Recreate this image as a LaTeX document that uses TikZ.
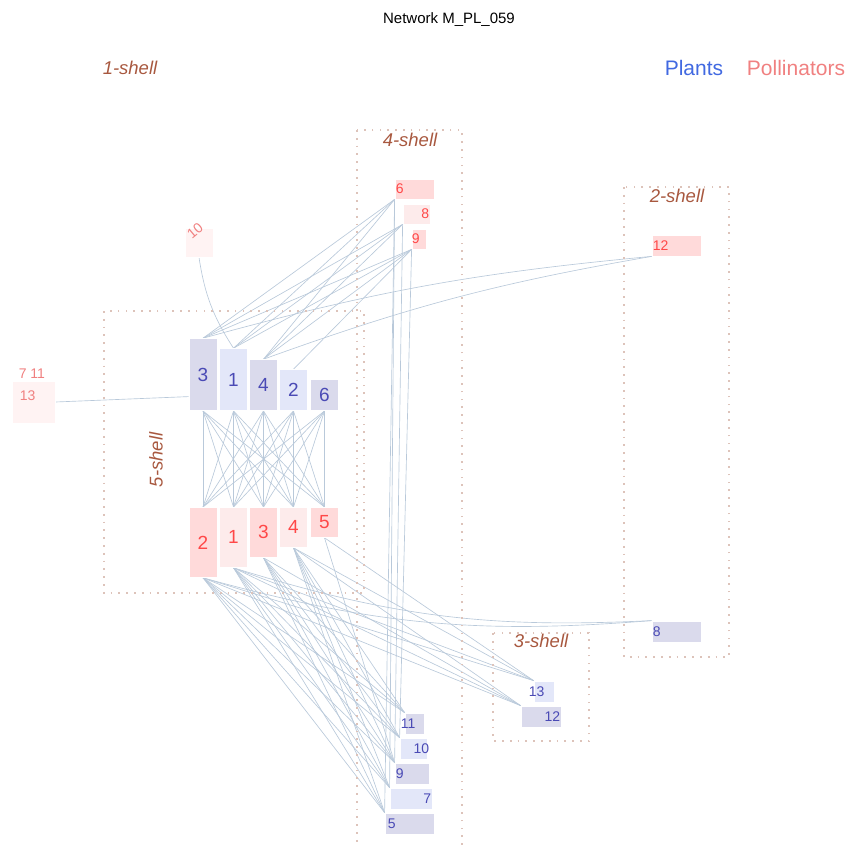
\documentclass[tikz,border=0pt]{standalone}
\usepackage{fontspec}
\setmainfont{Liberation Sans}
\usetikzlibrary{backgrounds}
\definecolor{plantfg}{HTML}{4A4AB5}
\definecolor{plantdark}{HTML}{DADAEC}
\definecolor{plantlight}{HTML}{E3E7F9}
\definecolor{pollfg}{HTML}{FF4848}
\definecolor{pollfaint}{HTML}{F08080}
\definecolor{pollmid}{HTML}{FFDADA}
\definecolor{polllight}{HTML}{FDEBEB}
\definecolor{pollpale}{HTML}{FFF3F3}
\definecolor{edgecol}{HTML}{B9C9DA}
\definecolor{shellbox}{HTML}{DDC3BA}
\definecolor{shelltext}{HTML}{A8583F}
\definecolor{legendplant}{HTML}{4169E1}
\definecolor{legendpoll}{HTML}{F08080}

\tikzset{
  box/.style={rectangle, draw=white, line width=0.8pt, inner sep=0pt},
  plantbox/.style={box, text=plantfg},
  pollbox/.style={box, text=pollfg},
  bignum/.style={font=\fontsize{19}{19}\selectfont},
  smallnum/.style={font=\fontsize{14}{14}\selectfont, inner sep=1pt},
  edge/.style={edgecol, line width=0.65pt},
  shell/.style={shellbox, line width=1.7pt, dash pattern=on 1.7pt off 6.1pt},
  shelllabel/.style={shelltext, font=\fontsize{18.5}{18.5}\selectfont\itshape},
}

\begin{document}
\begin{tikzpicture}[x=1pt, y=-1pt]
    \useasboundingbox (0,0) rectangle (849,846);
    % Title and legend
    \node[font=\fontsize{15}{15}\selectfont] (title) at (449,20) {Network M\_PL\_059};
    \node[legendplant, font=\fontsize{21}{21}\selectfont] (lplants) at (694,68) {Plants};
    \node[legendpoll, font=\fontsize{21}{21}\selectfont] (lpoll) at (796,68) {Pollinators};

    % Shell frames
    \draw[shell] (104,311) rectangle (364,593);
    \draw[shell] (357,130) rectangle (462,860);
    \draw[shell] (493,633) rectangle (589,741);
    \draw[shell] (624,187) rectangle (729,657);
    \node[shelllabel] (s1) at (130,68) {1-shell};
    \node[shelllabel] (s4) at (410,140) {4-shell};
    \node[shelllabel] (s2) at (677,196) {2-shell};
    \node[shelllabel] (s3) at (541,641) {3-shell};
    \node[shelllabel, rotate=90] (s5) at (156,460) {5-shell};

    % Plants, 5-shell
    \node[plantbox, bignum, fill=plantdark, minimum width=28, minimum height=72, anchor=south] (p3) at (203,411) {3};
    \node[plantbox, bignum, fill=plantlight, minimum width=28, minimum height=62, anchor=south] (p1) at (233.5,411) {1};
    \node[plantbox, bignum, fill=plantdark, minimum width=28, minimum height=51, anchor=south] (p4) at (263.5,411) {4};
    \node[plantbox, bignum, fill=plantlight, minimum width=28, minimum height=41, anchor=south] (p2) at (293.5,411) {2};
    \node[plantbox, bignum, fill=plantdark, minimum width=28, minimum height=31, anchor=south] (p6) at (324.5,411) {6};

    % Pollinators, 5-shell
    \node[pollbox, bignum, fill=pollmid, minimum width=28, minimum height=70, anchor=north] (a2) at (203,507) {2};
    \node[pollbox, bignum, fill=polllight, minimum width=28, minimum height=60, anchor=north] (a1) at (233.5,507) {1};
    \node[pollbox, bignum, fill=pollmid, minimum width=28, minimum height=50, anchor=north] (a3) at (263.5,507) {3};
    \node[pollbox, bignum, fill=polllight, minimum width=28, minimum height=40, anchor=north] (a4) at (293.5,507) {4};
    \node[pollbox, bignum, fill=pollmid, minimum width=28, minimum height=30, anchor=north] (a5) at (324.5,507) {5};

    % Pollinators, other shells
    \node[pollbox, fill=pollmid, minimum width=39, minimum height=20, label={[smallnum, pollfg, anchor=west]west:6}] (a6) at (414.5,189) {};
    \node[pollbox, fill=polllight, minimum width=27, minimum height=20, label={[smallnum, pollfg, anchor=east]east:8}] (a8) at (416.5,214) {};
    \node[pollbox, fill=pollmid, minimum width=14, minimum height=20, label={[smallnum, pollfg, anchor=west, inner sep=0pt]west:9}] (a9) at (419,239) {};
    \node[pollbox, fill=pollmid, minimum width=49, minimum height=21, label={[smallnum, pollfg, anchor=west]west:12}] (a12) at (676.5,245.5) {};
    \node[pollbox, fill=pollpale, minimum width=28, minimum height=29] (a10) at (199,242.5) {};
    \node[smallnum, pollfaint, rotate=40] (a10lab) at (195,231) {10};
    \node[pollbox, fill=pollpale, minimum width=43, minimum height=42,
      label={[smallnum, pollfaint, anchor=north west, inner sep=0pt, xshift=8pt, yshift=-10pt]north west:13},
      label={[smallnum, pollfaint, anchor=south west, inner sep=0pt, xshift=7pt, yshift=2pt]north west:7 11}] (a13) at (33.5,402) {};

    % Plants, other shells
    \node[plantbox, fill=plantdark, minimum width=19, minimum height=21, label={[smallnum, plantfg, anchor=west, xshift=-5pt]west:11}] (p11) at (414.5,723.5) {};
    \node[plantbox, fill=plantlight, minimum width=27, minimum height=21, label={[smallnum, plantfg, anchor=east, xshift=3pt]east:10}] (p10) at (413.5,748.5) {};
    \node[plantbox, fill=plantdark, minimum width=34, minimum height=21, label={[smallnum, plantfg, anchor=west]west:9}] (p9) at (412,773.5) {};
    \node[plantbox, fill=plantlight, minimum width=42, minimum height=21, label={[smallnum, plantfg, anchor=east]east:7}] (p7) at (411,798.5) {};
    \node[plantbox, fill=plantdark, minimum width=49, minimum height=21, label={[smallnum, plantfg, anchor=west, xshift=2pt]west:5}] (p5) at (409.5,823.5) {};
    \node[plantbox, fill=plantlight, minimum width=20, minimum height=21, label={[smallnum, plantfg, anchor=west, xshift=-6pt]west:13}] (p13) at (544,691.5) {};
    \node[plantbox, fill=plantdark, minimum width=40, minimum height=21, label={[smallnum, plantfg, anchor=east]east:12}] (p12) at (541,716.5) {};
    \node[plantbox, fill=plantdark, minimum width=49, minimum height=21, label={[smallnum, plantfg, anchor=west]west:8}] (p8) at (676.5,631.5) {};

    \begin{scope}[on background layer]
    % 5-shell core
    \foreach \p in {p3,p1,p4,p2,p6}
      \foreach \a in {a2,a1,a3,a4,a5}
        \draw[edge] (\p.south) -- (\a.north);
    % 4-shell pollinators
    \foreach \a/\p in {a6/p3,a6/p1,a6/p4,a8/p3,a8/p1,a8/p4,a9/p3,a9/p1,a9/p4,a9/p2}
      \draw[edge] (\a.south west) -- (\p.north);
    \foreach \a/\p in {a6/p5,a6/p7,a8/p9,a9/p10}
      \draw[edge] (\a.south west) -- (\p.north west);
    % lower plants
    \foreach \a in {a2,a1,a3,a4}
      \foreach \p in {p11,p10,p9,p7,p5}
        \draw[edge] (\a.south) -- (\p.north west);
    \foreach \a/\p in {a2/p13,a2/p12,a1/p13,a1/p12,a3/p12,a4/p13,a4/p12,a5/p13,a5/p9}
      \draw[edge] (\a.south) -- (\p.north west);
    % curved ones
    \draw[edge] (p3.north) to[bend left=5] (a12.south west);
    \draw[edge] (p4.north) to[bend left=5] (a12.south west);
    \draw[edge] (a2.south) to[bend right=10] (p8.north west);
    \draw[edge] (a1.south) to[bend right=10] (p8.north west);
    \draw[edge] (a10.south) to[bend right=12] (p1.north);
    \draw[edge] (a13.east) -- ([yshift=-22pt]p3.west);
    \end{scope}
\end{tikzpicture}
\end{document}
